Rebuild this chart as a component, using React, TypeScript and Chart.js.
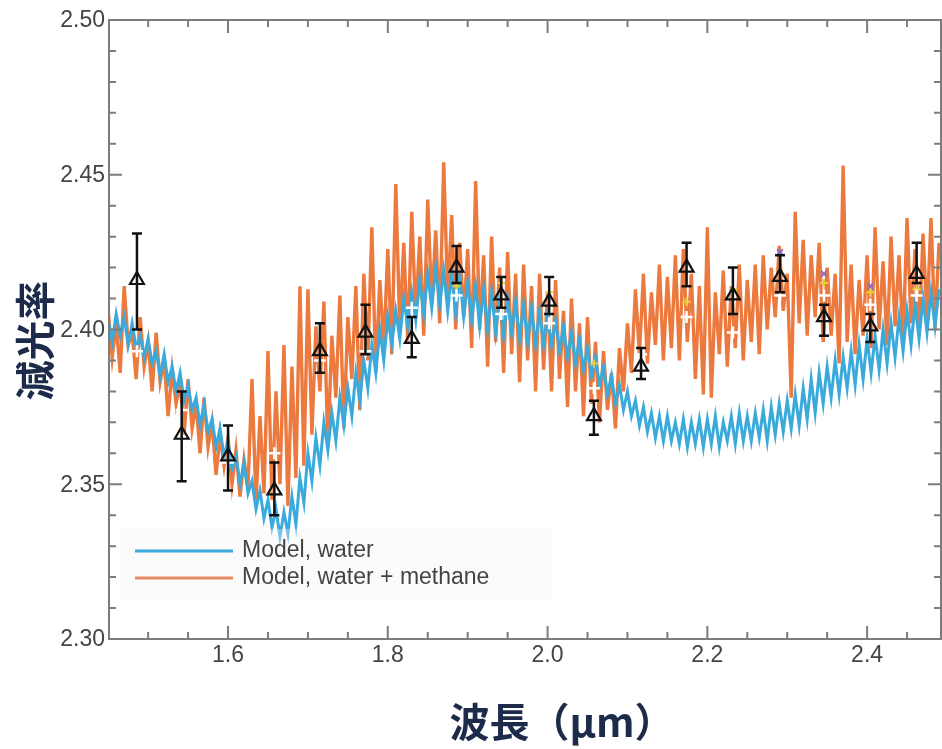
import React, { useEffect, useRef } from "react";
import { Chart, registerables } from "chart.js";

Chart.register(...registerables);

// ---------------- data ----------------
const wavelength = [
  1.450, 1.455, 1.460, 1.465, 1.470, 1.475, 1.480, 1.485, 1.490, 1.495,
  1.500, 1.505, 1.510, 1.515, 1.520, 1.525, 1.530, 1.535, 1.540, 1.545,
  1.550, 1.555, 1.560, 1.565, 1.570, 1.575, 1.580, 1.585, 1.590, 1.595,
  1.600, 1.605, 1.610, 1.615, 1.620, 1.625, 1.630, 1.635, 1.640, 1.645,
  1.650, 1.655, 1.660, 1.665, 1.670, 1.675, 1.680, 1.685, 1.690, 1.695,
  1.700, 1.705, 1.710, 1.715, 1.720, 1.725, 1.730, 1.735, 1.740, 1.745,
  1.750, 1.755, 1.760, 1.765, 1.770, 1.775, 1.780, 1.785, 1.790, 1.795,
  1.800, 1.805, 1.810, 1.815, 1.820, 1.825, 1.830, 1.835, 1.840, 1.845,
  1.850, 1.855, 1.860, 1.865, 1.870, 1.875, 1.880, 1.885, 1.890, 1.895,
  1.900, 1.905, 1.910, 1.915, 1.920, 1.925, 1.930, 1.935, 1.940, 1.945,
  1.950, 1.955, 1.960, 1.965, 1.970, 1.975, 1.980, 1.985, 1.990, 1.995,
  2.000, 2.005, 2.010, 2.015, 2.020, 2.025, 2.030, 2.035, 2.040, 2.045,
  2.050, 2.055, 2.060, 2.065, 2.070, 2.075, 2.080, 2.085, 2.090, 2.095,
  2.100, 2.105, 2.110, 2.115, 2.120, 2.125, 2.130, 2.135, 2.140, 2.145,
  2.150, 2.155, 2.160, 2.165, 2.170, 2.175, 2.180, 2.185, 2.190, 2.195,
  2.200, 2.205, 2.210, 2.215, 2.220, 2.225, 2.230, 2.235, 2.240, 2.245,
  2.250, 2.255, 2.260, 2.265, 2.270, 2.275, 2.280, 2.285, 2.290, 2.295,
  2.300, 2.305, 2.310, 2.315, 2.320, 2.325, 2.330, 2.335, 2.340, 2.345,
  2.350, 2.355, 2.360, 2.365, 2.370, 2.375, 2.380, 2.385, 2.390, 2.395,
  2.400, 2.405, 2.410, 2.415, 2.420, 2.425, 2.430, 2.435, 2.440, 2.445,
  2.450, 2.455, 2.460, 2.465, 2.470, 2.475, 2.480, 2.485, 2.490,
];

const modelWater = [
  2.403, 2.396, 2.405, 2.398, 2.404, 2.395, 2.402, 2.394, 2.398, 2.391,
  2.397, 2.389, 2.393, 2.385, 2.392, 2.383, 2.388, 2.380, 2.386, 2.377,
  2.382, 2.374, 2.378, 2.369, 2.376, 2.367, 2.371, 2.362, 2.368, 2.359,
  2.364, 2.355, 2.359, 2.350, 2.357, 2.347, 2.351, 2.342, 2.348, 2.339,
  2.345, 2.336, 2.342, 2.333, 2.341, 2.334, 2.346, 2.337, 2.352, 2.344,
  2.360, 2.351, 2.365, 2.356, 2.370, 2.361, 2.373, 2.364, 2.378, 2.369,
  2.381, 2.372, 2.386, 2.377, 2.390, 2.381, 2.395, 2.386, 2.400, 2.390,
  2.404, 2.395, 2.406, 2.397, 2.410, 2.401, 2.412, 2.403, 2.416, 2.405,
  2.418, 2.407, 2.420, 2.408, 2.419, 2.406, 2.418, 2.405, 2.417, 2.404,
  2.415, 2.403, 2.414, 2.401, 2.413, 2.400, 2.412, 2.399, 2.411, 2.398,
  2.410, 2.399, 2.409, 2.397, 2.408, 2.396, 2.407, 2.395, 2.406, 2.395,
  2.405, 2.395, 2.403, 2.393, 2.401, 2.391, 2.399, 2.389, 2.397, 2.387,
  2.394, 2.385, 2.391, 2.382, 2.388, 2.379, 2.385, 2.376, 2.382, 2.374,
  2.380, 2.372, 2.377, 2.369, 2.375, 2.367, 2.373, 2.365, 2.372, 2.364,
  2.372, 2.364, 2.370, 2.363, 2.371, 2.362, 2.370, 2.363, 2.371, 2.362,
  2.371, 2.363, 2.372, 2.362, 2.370, 2.364, 2.372, 2.363, 2.373, 2.364,
  2.372, 2.364, 2.373, 2.365, 2.374, 2.364, 2.375, 2.366, 2.376, 2.367,
  2.377, 2.368, 2.379, 2.369, 2.381, 2.371, 2.384, 2.373, 2.386, 2.376,
  2.388, 2.378, 2.390, 2.379, 2.391, 2.381, 2.393, 2.382, 2.395, 2.384,
  2.397, 2.386, 2.398, 2.387, 2.400, 2.389, 2.402, 2.391, 2.404, 2.393,
  2.406, 2.395, 2.408, 2.397, 2.410, 2.399, 2.412, 2.401, 2.413,
];

const modelWaterMethane = [
  2.406, 2.391, 2.402, 2.386, 2.414, 2.395, 2.399, 2.384, 2.404, 2.388,
  2.396, 2.380, 2.399, 2.383, 2.390, 2.372, 2.387, 2.376, 2.383, 2.366,
  2.384, 2.368, 2.376, 2.360, 2.378, 2.362, 2.370, 2.353, 2.366, 2.356,
  2.365, 2.350, 2.361, 2.346, 2.358, 2.349, 2.384, 2.344, 2.372, 2.347,
  2.393, 2.345, 2.380, 2.350, 2.395, 2.343, 2.388, 2.352, 2.414, 2.356,
  2.413, 2.366, 2.401, 2.380, 2.409, 2.362, 2.398, 2.378, 2.411, 2.368,
  2.404, 2.384, 2.414, 2.374, 2.418, 2.390, 2.433, 2.386, 2.416, 2.394,
  2.426, 2.392, 2.447, 2.400, 2.428, 2.396, 2.438, 2.404, 2.430, 2.398,
  2.442, 2.408, 2.432, 2.402, 2.454, 2.410, 2.437, 2.400, 2.428, 2.404,
  2.426, 2.394, 2.448, 2.400, 2.424, 2.388, 2.430, 2.396, 2.420, 2.386,
  2.425, 2.392, 2.418, 2.383, 2.421, 2.390, 2.414, 2.380, 2.418, 2.387,
  2.412, 2.380, 2.416, 2.384, 2.406, 2.375, 2.410, 2.380, 2.402, 2.372,
  2.404, 2.376, 2.396, 2.370, 2.393, 2.374, 2.386, 2.368, 2.394, 2.380,
  2.402, 2.386, 2.413, 2.392, 2.418, 2.389, 2.412, 2.395, 2.421, 2.390,
  2.417, 2.394, 2.424, 2.390, 2.426, 2.396, 2.418, 2.384, 2.414, 2.379,
  2.433, 2.378, 2.412, 2.392, 2.419, 2.388, 2.414, 2.394, 2.421, 2.390,
  2.416, 2.396, 2.421, 2.392, 2.424, 2.400, 2.420, 2.404, 2.427, 2.406,
  2.418, 2.378, 2.438, 2.402, 2.429, 2.398, 2.424, 2.404, 2.428, 2.396,
  2.420, 2.398, 2.418, 2.389, 2.453, 2.396, 2.421, 2.392, 2.416, 2.398,
  2.424, 2.394, 2.433, 2.400, 2.422, 2.395, 2.430, 2.401, 2.424, 2.396,
  2.436, 2.402, 2.426, 2.398, 2.431, 2.404, 2.436, 2.400, 2.428,
];

// observations (triangles with error bars)
const obsWave = [1.486, 1.542, 1.600, 1.658, 1.715, 1.772, 1.830, 1.886, 1.942, 2.002, 2.058, 2.117, 2.174, 2.232, 2.291, 2.346, 2.404, 2.462];
const obsValue = [2.416, 2.366, 2.359, 2.348, 2.393, 2.399, 2.397, 2.420, 2.411, 2.409, 2.372, 2.388, 2.420, 2.411, 2.417, 2.404, 2.401, 2.418];
const obsHigh = [2.431, 2.380, 2.369, 2.357, 2.402, 2.408, 2.404, 2.427, 2.417, 2.417, 2.377, 2.394, 2.428, 2.420, 2.424, 2.408, 2.405, 2.428];
const obsLow = [2.400, 2.351, 2.348, 2.340, 2.386, 2.392, 2.391, 2.415, 2.407, 2.405, 2.366, 2.384, 2.414, 2.405, 2.412, 2.398, 2.396, 2.415];

// binned model values (white crosses)
const binnedValue = [2.393, 2.374, 2.357, 2.360, 2.390, 2.393, 2.407, 2.411, 2.405, 2.402, 2.381, 2.392, 2.404, 2.399, 2.411, 2.411, 2.408, 2.411];

// small coloured markers
const yellowWave = [1.886, 1.942, 2.002, 2.058, 2.174, 2.232, 2.346, 2.404, 2.462];
const yellowValue = [2.414, 2.415, 2.412, 2.389, 2.409, 2.413, 2.415, 2.412, 2.413];
const purpleWave = [2.291, 2.346, 2.404];
const purpleValue = [2.425, 2.418, 2.414];

const xTickValues = [1.6, 1.8, 2.0, 2.2, 2.4];
const yTickValues = [2.30, 2.35, 2.40, 2.45, 2.50];
const seriesLabels = ["Model, water", "Model, water + methane"];

const BLUE = "#3aaadc";
const ORANGE = "#ec7a3e";
const TEXT = "#444444";
const NAVY = "#1b2b49";
const TICK_FONT = "'Liberation Sans', Arial, Helvetica, sans-serif";
const CJK_FONT = "'Noto Sans CJK JP', 'Noto Sans CJK SC', sans-serif";

// ---------------- plugins ----------------
const errorBarPlugin = {
  id: "errorBars",
  afterDatasetsDraw(chart: any) {
    const { ctx, scales } = chart;
    const xs = scales.x;
    const ys = scales.y;
    ctx.save();
    ctx.strokeStyle = "#111111";
    ctx.lineWidth = 2.5;
    for (let i = 0; i < obsWave.length; i++) {
      const x = xs.getPixelForValue(obsWave[i]);
      const yt = ys.getPixelForValue(obsHigh[i]);
      const yb = ys.getPixelForValue(obsLow[i]);
      ctx.beginPath();
      ctx.moveTo(x, yt);
      ctx.lineTo(x, yb);
      ctx.moveTo(x - 5, yt);
      ctx.lineTo(x + 5, yt);
      ctx.moveTo(x - 5, yb);
      ctx.lineTo(x + 5, yb);
      ctx.stroke();
    }
    ctx.restore();
  },
};

const legendPlugin = {
  id: "insideLegend",
  afterDatasetsDraw(chart: any) {
    const { ctx, chartArea: a } = chart;
    ctx.save();
    ctx.fillStyle = "rgba(244,244,244,0.35)";
    ctx.fillRect(a.left + 12, a.bottom - 110, 432, 72);
    const rows = [
      { label: seriesLabels[0], color: BLUE, dy: 88 },
      { label: seriesLabels[1], color: "#ea8a66", dy: 61 },
    ];
    ctx.font = `23px ${TICK_FONT}`;
    ctx.textBaseline = "middle";
    ctx.textAlign = "left";
    for (const r of rows) {
      const y = a.bottom - r.dy;
      ctx.strokeStyle = r.color;
      ctx.lineWidth = 3;
      ctx.beginPath();
      ctx.moveTo(a.left + 26, y);
      ctx.lineTo(a.left + 124, y);
      ctx.stroke();
      ctx.fillStyle = TEXT;
      ctx.fillText(r.label, a.left + 133, y);
    }
    ctx.restore();
  },
};

const framePlugin = {
  id: "frame",
  afterDraw(chart: any) {
    const { ctx, chartArea: a, scales } = chart;
    const xs = scales.x;
    const ys = scales.y;
    ctx.save();
    ctx.strokeStyle = "#7c7c7c";
    ctx.lineWidth = 2;
    ctx.strokeRect(a.left, a.top, a.right - a.left, a.bottom - a.top);
    const major = 13;
    const minor = 7;
    ctx.beginPath();
    for (let k = 0; k <= 30; k++) {
      const v = 1.5 + k * 0.05;
      if (v > xs.max + 1e-9) break;
      const px = xs.getPixelForValue(v);
      const isMajor = xTickValues.some((t) => Math.abs(t - v) < 1e-6);
      const len = isMajor ? major : minor;
      ctx.moveTo(px, a.bottom);
      ctx.lineTo(px, a.bottom - len);
      ctx.moveTo(px, a.top);
      ctx.lineTo(px, a.top + len);
    }
    for (let k = 1; k < 20; k++) {
      const v = 2.30 + k * 0.01;
      const py = ys.getPixelForValue(v);
      const isMajor = yTickValues.some((t) => Math.abs(t - v) < 1e-6);
      const len = isMajor ? major : minor;
      ctx.moveTo(a.left, py);
      ctx.lineTo(a.left + len, py);
      ctx.moveTo(a.right, py);
      ctx.lineTo(a.right - len, py);
    }
    ctx.stroke();

    // tick labels
    ctx.fillStyle = TEXT;
    ctx.font = `23px ${TICK_FONT}`;
    ctx.textAlign = "center";
    ctx.textBaseline = "middle";
    for (const v of xTickValues) {
      ctx.fillText(v.toFixed(1), xs.getPixelForValue(v), a.bottom + 17);
    }
    ctx.textAlign = "right";
    for (const v of yTickValues) {
      ctx.fillText(v.toFixed(2), a.left - 4, ys.getPixelForValue(v) + 1);
    }

    // axis titles
    ctx.fillStyle = NAVY;
    ctx.textAlign = "center";
    ctx.font = `bold 40px ${CJK_FONT}`;
    ctx.fillText("波長（μm）", (a.left + a.right) / 2 + 37, a.bottom + 83);
    ctx.save();
    ctx.translate(35, (a.top + a.bottom) / 2 + 11);
    ctx.rotate(-Math.PI / 2);
    ctx.fillText("減光率", 0, 0);
    ctx.restore();
    ctx.restore();
  },
};

// ---------------- component ----------------
export default function App() {
  const canvasRef = useRef<HTMLCanvasElement | null>(null);

  useEffect(() => {
    if (!canvasRef.current) return;
    const toXY = (xsArr: number[], ysArr: number[]) => xsArr.map((x, i) => ({ x, y: ysArr[i] }));

    const chart = new Chart(canvasRef.current, {
      type: "scatter",
      data: {
        datasets: [
          {
            label: "observed",
            data: toXY(obsWave, obsValue),
            pointStyle: "triangle",
            pointRadius: 8,
            borderColor: "#111111",
            borderWidth: 2.2,
            backgroundColor: "rgba(255,255,255,0.25)",
            order: 0,
          },
          {
            label: "binned",
            data: toXY(obsWave, binnedValue),
            pointStyle: "cross",
            pointRadius: 6,
            borderColor: "#ffffff",
            borderWidth: 2.5,
            order: 1,
          },
          {
            label: "purple",
            data: toXY(purpleWave, purpleValue),
            pointStyle: "crossRot",
            pointRadius: 4,
            borderColor: "#8d6cc0",
            borderWidth: 2,
            order: 2,
          },
          {
            label: "yellow",
            data: toXY(yellowWave, yellowValue),
            pointStyle: "cross",
            pointRadius: 4,
            borderColor: "#e6d23c",
            borderWidth: 2,
            order: 3,
          },
          {
            label: seriesLabels[0],
            data: toXY(wavelength, modelWater),
            showLine: true,
            pointRadius: 0,
            borderColor: BLUE,
            borderWidth: 3,
            order: 4,
          },
          {
            label: seriesLabels[1],
            data: toXY(wavelength, modelWaterMethane),
            showLine: true,
            pointRadius: 0,
            borderColor: ORANGE,
            borderWidth: 3.4,
            order: 5,
          },
        ],
      },
      options: {
        responsive: true,
        maintainAspectRatio: false,
        animation: false,
        events: [],
        layout: { autoPadding: false, padding: { top: 20, right: 1, left: 0, bottom: 0 } },
        plugins: {
          legend: { display: false },
          tooltip: { enabled: false },
        },
        scales: {
          x: {
            type: "linear",
            min: 1.451,
            max: 2.4925,
            grid: { display: false, drawTicks: false },
            border: { display: false },
            afterFit: (s: any) => {
              s.height = 110;
            },
            ticks: { display: false },
          },
          y: {
            type: "linear",
            min: 2.30,
            max: 2.50,
            grid: { display: false, drawTicks: false },
            border: { display: false },
            afterFit: (s: any) => {
              s.width = 109;
            },
            ticks: { display: false },
          },
        },
      },
      plugins: [errorBarPlugin, legendPlugin, framePlugin],
    } as any);

    return () => chart.destroy();
  }, []);

  return (
    <div style={{ position: "absolute", left: 0, top: 0, width: 942, height: 749, background: "#ffffff" }}>
      <canvas ref={canvasRef} />
    </div>
  );
}
